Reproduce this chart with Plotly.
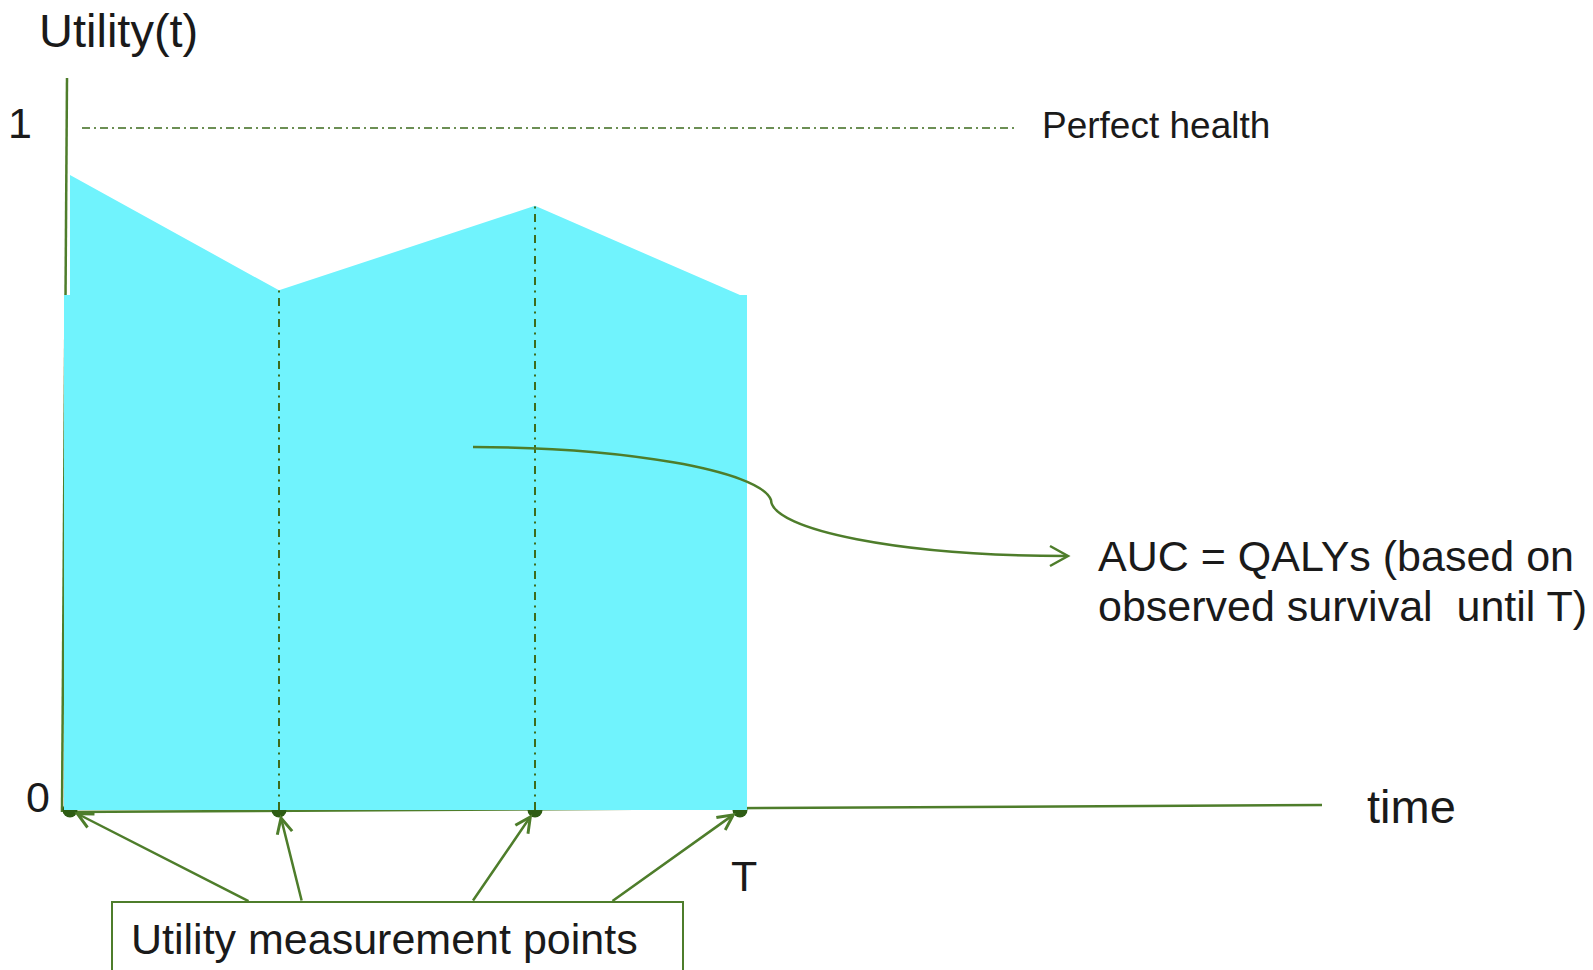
import plotly.graph_objects as go

# ---------------- data ----------------
measurement_times = [0.04, 2.13, 4.69, 6.74]      # time of each utility measurement (T = last)
utility_values = [0.931, 0.762, 0.886, 0.755]      # utility at each measurement
perfect_health = 1.0
area_left, area_right = -0.02, 6.81               # horizontal extent of shaded AUC block
tick_labels_y = ["0", "1"]
time_end_label = "T"

# ---------------- pixel <-> data helpers (layout only) ----------------
W, H = 1593, 970
X0_PX, PX_PER_T = 66.0, 100.0
Y0_PX, PX_PER_U = 810.0, 682.0


def xd(px):
    return (px - X0_PX) / PX_PER_T


def yd(py):
    return (Y0_PX - py) / PX_PER_U


def xp(px):
    return px / W


def yp(py):
    return 1 - py / H


GREEN = "#4E7D2B"
DARK_GREEN = "#3D6B1C"
DOT_GREEN = "#2E5C14"
CYAN = "#70F3FD"
TEXT = "#1A1A1A"
FONT = "Liberation Sans, Arial, sans-serif"

fig = go.Figure()

# measurement dots (partly hidden under the shaded area)
fig.add_trace(go.Scatter(
    x=measurement_times, y=[0] * len(measurement_times), mode="markers",
    marker=dict(size=15, color=DOT_GREEN, line=dict(width=0)),
    hoverinfo="skip", showlegend=False))

# shaded area under utility curve
u_last = utility_values[-1]
poly_x = [area_left, area_left, measurement_times[0]] + measurement_times + [area_right, area_right, area_left]
poly_y = [0, u_last, u_last] + utility_values + [u_last, 0, 0]
fig.add_trace(go.Scatter(
    x=poly_x, y=poly_y, mode="lines", fill="toself", fillcolor=CYAN,
    line=dict(width=0, color=CYAN), hoverinfo="skip", showlegend=False))

# vertical dash-dot lines at the interior measurement points
for t, u in zip(measurement_times[1:3], utility_values[1:3]):
    fig.add_trace(go.Scatter(
        x=[t, t], y=[0, u], mode="lines",
        line=dict(color=DARK_GREEN, width=2, dash="8px,5.5px,2px,5.5px"),
        hoverinfo="skip", showlegend=False))

# perfect health reference line
fig.add_trace(go.Scatter(
    x=[xd(82), xd(1018)], y=[perfect_health, perfect_health], mode="lines",
    line=dict(color=DARK_GREEN, width=1.5, dash="8px,4px,2px,4px"),
    hoverinfo="skip", showlegend=False))

shapes = []
# y axis (slightly tilted, hand drawn)
shapes.append(dict(type="line", xref="x", yref="y", x0=xd(67), y0=yd(78), x1=xd(62), y1=yd(812),
                   line=dict(color=GREEN, width=2.5), layer="below"))
# time axis
shapes.append(dict(type="line", xref="x", yref="y", x0=xd(63), y0=yd(812), x1=xd(1322), y1=yd(805),
                   line=dict(color=GREEN, width=2.5), layer="below"))
# box for measurement-points label
shapes.append(dict(type="rect", xref="x", yref="y", x0=xd(112), y0=yd(902), x1=xd(683), y1=yd(1000),
                   line=dict(color=GREEN, width=2), fillcolor="rgba(0,0,0,0)", layer="above"))


def pt(px, py):
    return f"{xd(px):.4f},{yd(py):.5f}"


curve = ("M " + pt(473, 447) + " C " + pt(620, 447) + " " + pt(760, 470) + " " + pt(771, 500) +
         " C " + pt(772, 530) + " " + pt(900, 556) + " " + pt(1067, 556))
shapes.append(dict(type="path", xref="x", yref="y", path=curve,
                   line=dict(color=GREEN, width=2.5), layer="above"))
head = "M " + pt(1050, 546) + " L " + pt(1068, 556) + " L " + pt(1050, 566)
shapes.append(dict(type="path", xref="x", yref="y", path=head,
                   line=dict(color=GREEN, width=2.5), layer="above"))

annotations = []


def label(text, px, py, size, xanchor="left"):
    annotations.append(dict(text=text, x=xp(px), y=yp(py), xref="paper", yref="paper",
                            xanchor=xanchor, yanchor="middle", showarrow=False,
                            font=dict(family=FONT, size=size, color=TEXT)))


label("Utility(t)", 37, 30, 47)
label(tick_labels_y[1], 20, 123, 43, "center")
label(tick_labels_y[0], 38, 797, 43, "center")
label(time_end_label, 744, 876, 43, "center")
label("time", 1365, 806, 47)
label("Perfect health", 1040, 126, 37)
label("AUC = QALYs (based on", 1096, 556, 43)
label("observed survival  until T)", 1096, 606, 43)
label("Utility measurement points", 129, 939, 43)

# arrows from the label box to each measurement point
tails_px = [250, 302, 472, 611]
for t, tail in zip(measurement_times, tails_px):
    annotations.append(dict(
        x=t, y=0, xref="x", yref="y", ax=xd(tail), ay=yd(902), axref="x", ayref="y",
        text="", showarrow=True, arrowhead=5, arrowsize=1.2, arrowwidth=2.5,
        arrowcolor=GREEN, standoff=5))

fig.update_layout(
    width=W, height=H, margin=dict(l=0, r=0, t=0, b=0),
    paper_bgcolor="white", plot_bgcolor="white",
    xaxis=dict(range=[xd(0), xd(W)], visible=False, showgrid=False, zeroline=False, fixedrange=True),
    yaxis=dict(range=[yd(H), yd(0)], visible=False, showgrid=False, zeroline=False, fixedrange=True),
    shapes=shapes, annotations=annotations, showlegend=False, hovermode=False,
)

fig.write_html("out.html", config={"displayModeBar": False},
               post_script="document.body.style.margin='0';document.body.style.overflow='hidden';")
